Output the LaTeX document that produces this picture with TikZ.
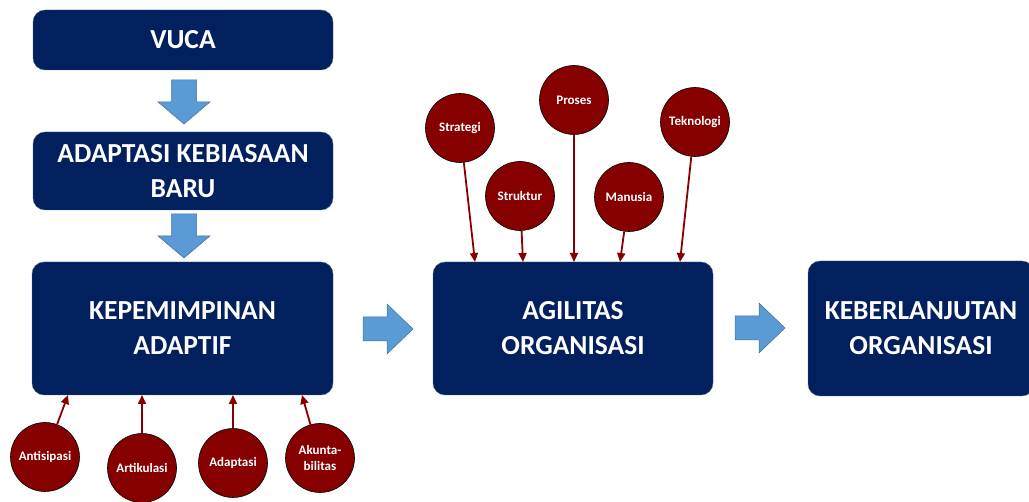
\documentclass[tikz,border=0pt]{standalone}
\usepackage{fontspec}
\setmainfont{Carlito}
\usetikzlibrary{calc,arrows.meta}

\definecolor{navyblue}{RGB}{2,32,94}
\definecolor{darkred}{RGB}{134,0,0}
\definecolor{arrowblue}{RGB}{91,155,213}
\definecolor{arrowedge}{RGB}{65,113,156}

\tikzset{
  bigbox/.style = {rectangle, rounded corners = 12, fill = navyblue, draw = navyblue!70!white,
    text = white, align = center, inner sep = 0,
    font = \bfseries\fontsize{27.5}{35}\selectfont},
  factor/.style = {circle, fill = darkred, draw = black, line width = 0.6pt,
    minimum size = 69, inner sep = 0, text = white, align = center,
    font = \bfseries\fontsize{13}{16}\selectfont},
  link/.style = {draw = darkred, line width = 1.8pt, -{Triangle[length = 9pt, width = 8pt]}},
  blockarrow/.style = {fill = arrowblue, draw = arrowedge, line width = 0.5pt},
  downarr/.pic = {\path[blockarrow] (-12.5,0) -- (12.5,0) -- (12.5,22) -- (26,22) -- (0,44)
    -- (-26,22) -- (-12.5,22) -- cycle;},
  rightarr/.pic = {\path[blockarrow] (0,-12) -- (24,-12) -- (24,-25) -- (50,0) -- (24,25)
    -- (24,12) -- (0,12) -- cycle;}
}

\begin{document}
\begin{tikzpicture}[x = 1pt, y = -1pt]
\useasboundingbox (0,0) rectangle (1029,502);
% main boxes
\node[bigbox, minimum width = 300, minimum height = 60] (vuca) at (183,40) {VUCA};
\node[bigbox, minimum width = 300, minimum height = 78] (akb) at (183,171) {ADAPTASI KEBIASAAN\\BARU};
\node[bigbox, minimum width = 301, minimum height = 133] (kep) at (182.5,328.5) {KEPEMIMPINAN\\ADAPTIF};
\node[bigbox, minimum width = 280, minimum height = 133] (agil) at (573,328.5) {AGILITAS\\ORGANISASI};
\node[bigbox, minimum width = 226, minimum height = 135] (keb) at (921,328.5) {KEBERLANJUTAN\\ORGANISASI};
% block arrows
\pic at (184,80) {downarr};
\pic at (184,214) {downarr};
\pic at (363,329) {rightarr};
\pic at (735,328) {rightarr};
% factors of leadership
\node[factor] (antisipasi) at (45,457) {Antisipasi};
\node[factor] (artikulasi) at (142,468) {Artikulasi};
\node[factor] (adaptasi) at (233,463) {Adaptasi};
\node[factor] (akuntabilitas) at (320,458) {Akunta-\\bilitas};
\coordinate (k1) at (68,395);
\coordinate (k2) at (142,395);
\coordinate (k3) at (233,395);
\coordinate (k4) at (302,395);
\path[link] (antisipasi) to (k1);
\path[link] (artikulasi) to (k2);
\path[link] (adaptasi) to (k3);
\path[link] (akuntabilitas) to (k4);
% factors of agility
\node[factor] (strategi) at (460,128) {Strategi};
\node[factor] (struktur) at (520,196) {Struktur};
\node[factor] (proses) at (574,100) {Proses};
\node[factor] (manusia) at (629,197) {Manusia};
\node[factor] (teknologi) at (695,122) {Teknologi};
\coordinate (a1) at (475,262);
\coordinate (a2) at (523,262);
\coordinate (a3) at (574,262);
\coordinate (a4) at (620,262);
\coordinate (a5) at (680,262);
\path[link] (strategi) to (a1);
\path[link] (struktur) to (a2);
\path[link] (proses) to (a3);
\path[link] (manusia) to (a4);
\path[link] (teknologi) to (a5);
\end{tikzpicture}
\end{document}
